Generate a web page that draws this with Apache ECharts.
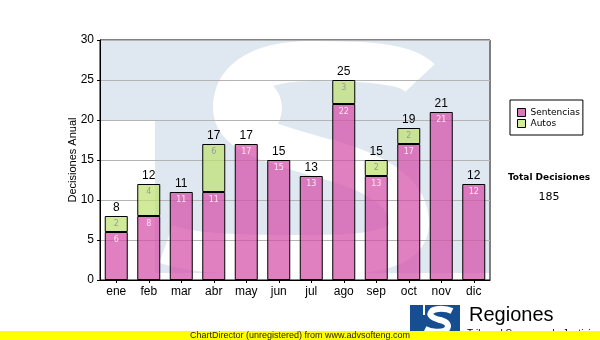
<!DOCTYPE html>
<html>
<head>
<meta charset="utf-8">
<script src="https://cdn.jsdelivr.net/npm/echarts@6/dist/echarts.min.js"></script>
<style>
  html, body { margin: 0; padding: 0; background: #fff; }
  #chart { width: 600px; height: 340px; }
</style>
</head>
<body>
<div id="chart"></div>
<script>
// Monthly decisions, split by type
const months = ['ene', 'feb', 'mar', 'abr', 'may', 'jun', 'jul', 'ago', 'sep', 'oct', 'nov', 'dic'];
const sentencias = [6, 8, 11, 11, 17, 15, 13, 22, 13, 17, 21, 12];
const autos = [2, 4, 0, 6, 0, 0, 0, 3, 2, 2, 0, 0];
const yTicks = { min: 0, max: 30, step: 5 };

const totals = months.map((_, i) => sentencias[i] + autos[i]);
const grandTotal = totals.reduce((a, b) => a + b, 0);

const PINK = 'rgba(211, 74, 165, 0.7)';
const GREEN = 'rgba(190, 225, 110, 0.7)';
const SANS = '"Liberation Sans", Arial, sans-serif';
const VERD = '"DejaVu Sans", Verdana, sans-serif';

const chart = echarts.init(document.getElementById('chart'), null, { renderer: 'canvas' });

// a chain of cubic curves drawn as one thick stroke
function strokeChain(points, width, color, z) {
  const out = [];
  for (let i = 0; i < points.length; i++) {
    const p = points[i];
    out.push({
      type: 'bezierCurve', z: z, silent: true,
      shape: { x1: p[0], y1: p[1], cpx1: p[2], cpy1: p[3], cpx2: p[4], cpy2: p[5], x2: p[6], y2: p[7] },
      style: { fill: null, stroke: color, lineWidth: width, lineCap: (i === 0 || i === points.length - 1) ? 'butt' : 'round' }
    });
  }
  return out;
}

// faded "TS" emblem behind the plot
const emblem = [
  { type: 'rect', z: -10, silent: true, shape: { x: 101, y: 41, width: 388, height: 232 }, style: { fill: '#dfe8f1' } },
  { type: 'rect', z: -9, silent: true, shape: { x: 101, y: 121, width: 54, height: 152 }, style: { fill: '#ffffff' } },
  { type: 'circle', z: -9, silent: true, shape: { cx: 250, cy: 108, r: 32 }, style: { fill: '#ffffff' } }
].concat(strokeChain([
  [420, 78, 405, 62, 360, 61, 312, 61],
  [312, 61, 252, 61, 233, 84, 233, 108],
  [233, 108, 233, 136, 280, 146, 330, 160],
  [330, 160, 385, 176, 409, 196, 409, 224],
  [409, 224, 409, 248, 372, 255, 320, 255],
  [320, 255, 262, 255, 200, 256, 166, 244]
], 40, '#ffffff', -9));

// logo in the lower right corner
const logo = [
  { type: 'rect', silent: true, shape: { x: 410, y: 305, width: 50, height: 27 }, style: { fill: '#174e91' } }
].concat(strokeChain([
  [452, 311, 446, 308, 436, 308, 432, 311],
  [432, 311, 428, 315, 432, 318, 440, 320],
  [440, 320, 448, 322, 450, 326, 446, 330],
  [446, 330, 441, 333, 431, 332, 425, 329]
], 6, '#ffffff', 1)).concat([
  { type: 'rect', silent: true, shape: { x: 423, y: 305, width: 2, height: 10 }, style: { fill: '#ffffff' } },
  { type: 'text', silent: true, style: { x: 469, y: 315, text: 'Regiones', fill: '#000', font: '20px ' + SANS, textAlign: 'left', textVerticalAlign: 'middle' } },
  { type: 'text', silent: true, style: { x: 467, y: 329, text: 'Tribunal Supremo de Justicia', fill: '#000', font: '10px ' + SANS, textAlign: 'left', textVerticalAlign: 'top' } }
]);

const footer = [
  { type: 'rect', silent: true, z: 50, shape: { x: 0, y: 331, width: 600, height: 9 }, style: { fill: '#ffff00' } },
  { type: 'text', silent: true, z: 51, style: { x: 300, y: 336, text: 'ChartDirector (unregistered) from www.advsofteng.com', fill: '#222', font: '9px ' + SANS, textAlign: 'center', textVerticalAlign: 'middle' } }
];

const summary = [
  { type: 'text', silent: true, style: { x: 549, y: 178, text: 'Total Decisiones', fill: '#000', font: 'bold 9px ' + VERD, textAlign: 'center', textVerticalAlign: 'middle' } },
  { type: 'text', silent: true, style: { x: 549, y: 197, text: String(grandTotal), fill: '#000', font: '11px ' + VERD, textAlign: 'center', textVerticalAlign: 'middle' } }
];

const option = {
  animation: false,
  backgroundColor: '#ffffff',
  grid: { left: 100, right: 110, top: 40, bottom: 60, show: true, borderColor: '#000', borderWidth: 1, backgroundColor: 'transparent' },
  legend: {
    orient: 'vertical', left: 510, top: 100,
    padding: [8, 3, 7, 7], itemGap: 2,
    itemWidth: 8, itemHeight: 8, icon: 'rect',
    borderColor: '#000', borderWidth: 1,
    textStyle: { fontFamily: VERD, fontSize: 9, color: '#000' },
    data: [
      { name: 'Sentencias', itemStyle: { color: '#d97abd', borderColor: '#000', borderWidth: 1 } },
      { name: 'Autos', itemStyle: { color: '#d4ec9a', borderColor: '#000', borderWidth: 1 } }
    ]
  },
  xAxis: {
    type: 'category', data: months,
    axisLine: { lineStyle: { color: '#000', width: 1 } },
    axisTick: { show: true, alignWithLabel: true, length: 3, lineStyle: { color: '#000' } },
    axisLabel: { color: '#000', fontFamily: SANS, fontSize: 12, margin: 6 }
  },
  yAxis: {
    type: 'value', min: yTicks.min, max: yTicks.max, interval: yTicks.step,
    name: 'Decisiones Anual', nameLocation: 'middle', nameGap: 22, nameMoveOverlap: false,
    nameTextStyle: { color: '#000', fontFamily: SANS, fontSize: 11 },
    axisLine: { show: true, lineStyle: { color: '#000', width: 1 } },
    axisTick: { show: true, length: 3, lineStyle: { color: '#000' } },
    axisLabel: { color: '#000', fontFamily: SANS, fontSize: 12, margin: 6 },
    splitLine: { lineStyle: { color: '#b4b4b4', width: 1 } }
  },
  series: [
    {
      name: 'Sentencias', type: 'bar', stack: 'd', barWidth: 23,
      data: sentencias,
      itemStyle: { color: PINK, borderColor: '#000', borderWidth: 1 },
      label: { show: true, position: 'insideTop', distance: 4, color: '#fbe6f4', fontFamily: VERD, fontSize: 8 }
    },
    {
      name: 'Autos', type: 'bar', stack: 'd', barWidth: 23,
      data: autos.map(v => (v > 0 ? v : null)),
      itemStyle: { color: GREEN, borderColor: '#000', borderWidth: 1 },
      label: { show: true, position: 'insideTop', distance: 4, color: '#9a9a9a', fontFamily: VERD, fontSize: 8 }
    },
    {
      name: 'Total', type: 'bar', barWidth: 23, barGap: '-100%', silent: true,
      data: totals,
      itemStyle: { color: 'rgba(0,0,0,0)' },
      label: { show: true, position: 'top', distance: 2, color: '#000', fontFamily: SANS, fontSize: 12 }
    }
  ],
  graphic: { elements: [].concat(emblem, logo, footer, summary) }
};

chart.setOption(option);
</script>
</body>
</html>
